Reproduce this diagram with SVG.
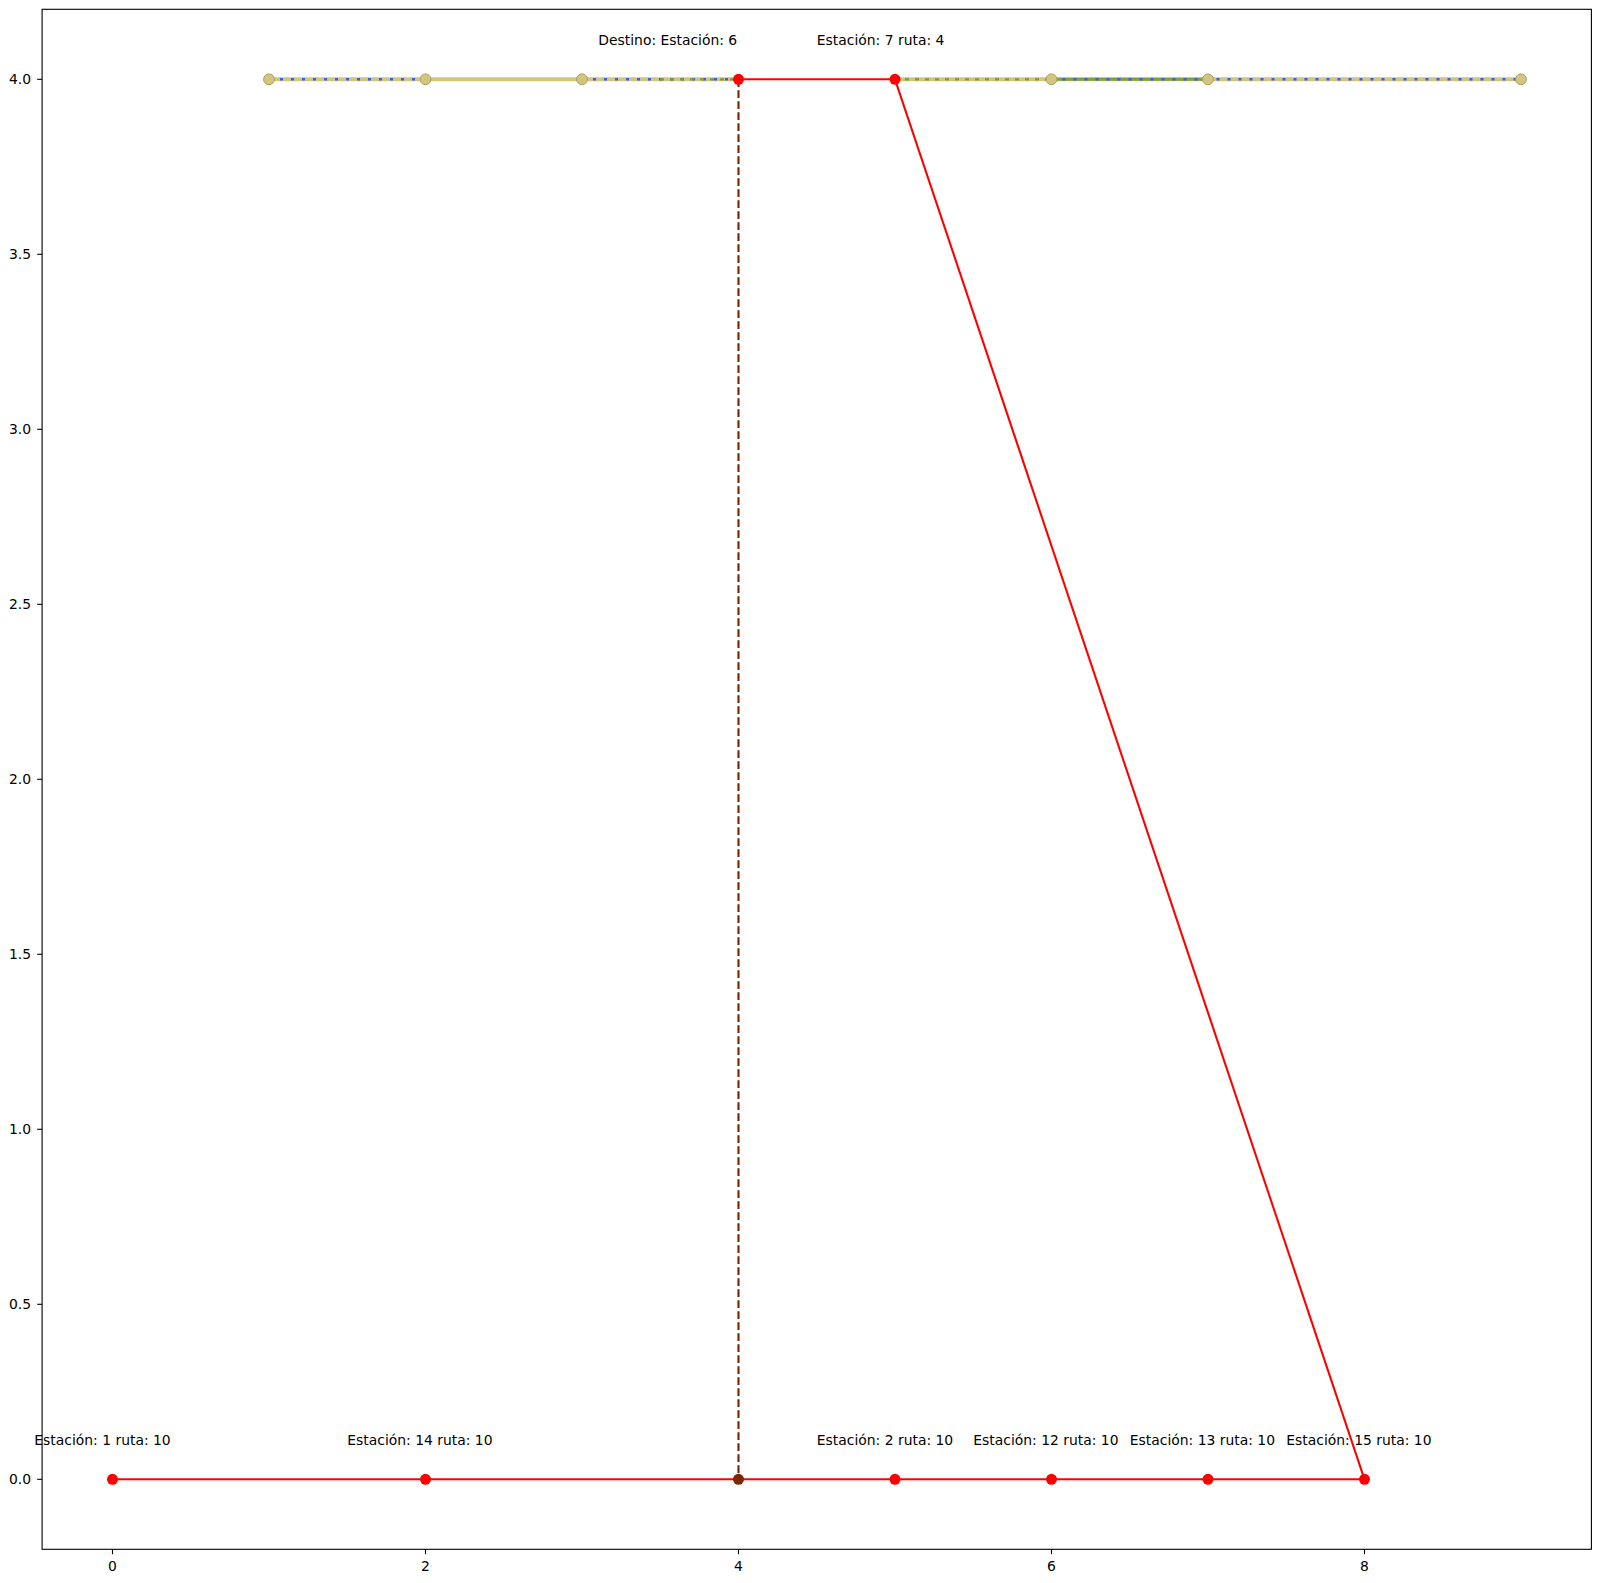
<svg xmlns="http://www.w3.org/2000/svg" width="1601" height="1583" viewBox="0 0 1601 1583">
<style>
text{font-family:"DejaVu Sans","Liberation Sans",sans-serif;font-size:13.9px;fill:#000}
.tick{stroke:#000;stroke-width:1.1}
.khaki{stroke:#d3c57e;stroke-width:4;fill:none}
.blue{stroke:#2f63f0;stroke-width:2.4;stroke-dasharray:3 8;fill:none}
.olive{stroke:#7f9b33;stroke-width:2.2;stroke-dasharray:4 6;fill:none}
.olivesolid{stroke:#83a03a;stroke-width:3;fill:none}
.red{stroke:#ff0000;stroke-width:2.1;fill:none}
.brown{stroke:#7a2200;stroke-width:2.1;stroke-dasharray:7.7 3.3;fill:none}
.nk{fill:#d3c57e;stroke:#a89f62;stroke-width:1}
.nr{fill:#ff0000}
.nb{fill:#7a2608}
</style>
<rect width="1601" height="1583" fill="#fff"/>
<g id="axes">
<rect x="42.1" y="9.3" width="1549.3" height="1540" fill="none" stroke="#000" stroke-width="1.1"/>
<g class="tick">
<line x1="112.5" y1="1549.3" x2="112.5" y2="1554.2"/>
<line x1="425.5" y1="1549.3" x2="425.5" y2="1554.2"/>
<line x1="738.5" y1="1549.3" x2="738.5" y2="1554.2"/>
<line x1="1051.5" y1="1549.3" x2="1051.5" y2="1554.2"/>
<line x1="1364.5" y1="1549.3" x2="1364.5" y2="1554.2"/>
<line x1="37.2" y1="1479.3" x2="42.1" y2="1479.3"/>
<line x1="37.2" y1="1304.3" x2="42.1" y2="1304.3"/>
<line x1="37.2" y1="1129.3" x2="42.1" y2="1129.3"/>
<line x1="37.2" y1="954.3" x2="42.1" y2="954.3"/>
<line x1="37.2" y1="779.3" x2="42.1" y2="779.3"/>
<line x1="37.2" y1="604.3" x2="42.1" y2="604.3"/>
<line x1="37.2" y1="429.3" x2="42.1" y2="429.3"/>
<line x1="37.2" y1="254.3" x2="42.1" y2="254.3"/>
<line x1="37.2" y1="79.3" x2="42.1" y2="79.3"/>
</g>
<g text-anchor="middle">
<text x="112.5" y="1570.7">0</text>
<text x="425.5" y="1570.7">2</text>
<text x="738.5" y="1570.7">4</text>
<text x="1051.5" y="1570.7">6</text>
<text x="1364.5" y="1570.7">8</text>
</g>
<g text-anchor="end">
<text x="31" y="1484.3">0.0</text>
<text x="31" y="1309.3">0.5</text>
<text x="31" y="1134.3">1.0</text>
<text x="31" y="959.3">1.5</text>
<text x="31" y="784.3">2.0</text>
<text x="31" y="609.3">2.5</text>
<text x="31" y="434.3">3.0</text>
<text x="31" y="259.3">3.5</text>
<text x="31" y="84.3">4.0</text>
</g>
</g>
<g id="connectors">
<line class="khaki" x1="269" y1="79.3" x2="738.5" y2="79.3"/>
<line class="khaki" x1="895" y1="79.3" x2="1521" y2="79.3"/>
<line class="blue" x1="269" y1="79.3" x2="425.5" y2="79.3"/>
<line class="blue" x1="582" y1="79.3" x2="738.5" y2="79.3"/>
<line class="olive" x1="660" y1="79.3" x2="738.5" y2="79.3"/>
<line class="olive" x1="895" y1="79.3" x2="1051.5" y2="79.3"/>
<line class="olivesolid" x1="1051.5" y1="79.3" x2="1208" y2="79.3"/>
<line class="blue" x1="1051.5" y1="79.3" x2="1521" y2="79.3"/>
<line class="red" x1="738.5" y1="79.3" x2="895" y2="79.3"/>
<polyline class="red" points="895,79.3 1364.5,1479.3"/>
<line class="red" x1="112.5" y1="1479.3" x2="1364.5" y2="1479.3"/>
<line class="brown" x1="738.5" y1="79.3" x2="738.5" y2="1479.3"/>
</g>
<g id="node-top-1"><circle class="nk" cx="269" cy="79.3" r="5.4"/></g>
<g id="node-top-2"><circle class="nk" cx="425.5" cy="79.3" r="5.4"/></g>
<g id="node-top-3"><circle class="nk" cx="582" cy="79.3" r="5.4"/></g>
<g id="node-destino-6"><circle class="nr" cx="738.5" cy="79.3" r="5.5"/><text x="598.3" y="44.8">Destino: Estación: 6</text></g>
<g id="node-estacion-7"><circle class="nr" cx="895" cy="79.3" r="5.5"/><text x="816.8" y="44.8">Estación: 7 ruta: 4</text></g>
<g id="node-top-6"><circle class="nk" cx="1051.5" cy="79.3" r="5.4"/></g>
<g id="node-top-7"><circle class="nk" cx="1208" cy="79.3" r="5.4"/></g>
<g id="node-top-9"><circle class="nk" cx="1521" cy="79.3" r="5.4"/></g>
<g id="node-estacion-1"><circle class="nr" cx="112.5" cy="1479.3" r="5.5"/><text x="34.3" y="1444.8">Estación: 1 ruta: 10</text></g>
<g id="node-estacion-14"><circle class="nr" cx="425.5" cy="1479.3" r="5.5"/><text x="347.3" y="1444.8">Estación: 14 ruta: 10</text></g>
<g id="node-bottom-4"><circle class="nb" cx="738.5" cy="1479.3" r="5.5"/></g>
<g id="node-estacion-2"><circle class="nr" cx="895" cy="1479.3" r="5.5"/><text x="816.8" y="1444.8">Estación: 2 ruta: 10</text></g>
<g id="node-estacion-12"><circle class="nr" cx="1051.5" cy="1479.3" r="5.5"/><text x="973.3" y="1444.8">Estación: 12 ruta: 10</text></g>
<g id="node-estacion-13"><circle class="nr" cx="1208" cy="1479.3" r="5.5"/><text x="1129.8" y="1444.8">Estación: 13 ruta: 10</text></g>
<g id="node-estacion-15"><circle class="nr" cx="1364.5" cy="1479.3" r="5.5"/><text x="1286.3" y="1444.8">Estación: 15 ruta: 10</text></g>
</svg>
